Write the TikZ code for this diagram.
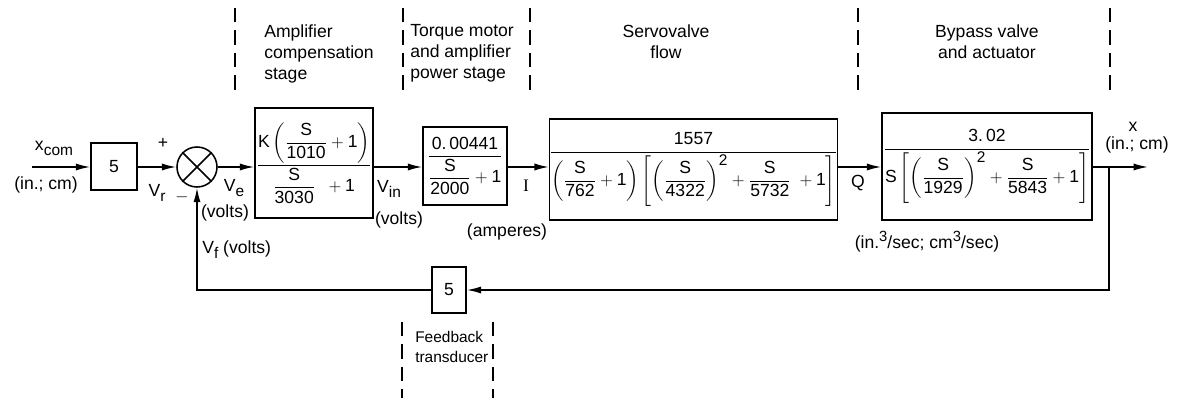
\documentclass[tikz,border=0pt]{standalone}
\usepackage{amsmath}
\usepackage{fontspec}
\setmainfont{Liberation Sans}
\newfontfamily\serifI{Liberation Serif}
\usetikzlibrary{arrows.meta}

\tikzset{
  blk/.style={draw,line width=1.1pt,inner sep=0pt},
  wire/.style={line width=1.1pt},
  sig/.style={wire,-{Latex[length=3.6mm,width=1.8mm]}},
  sep/.style={line width=1.2pt,dash pattern=on 10pt off 6pt},
  lbl/.style={inner sep=0pt},
}
% sans numbers in the transfer functions
\newcommand{\tn}[1]{\text{#1}}
\newcommand{\sfr}[1]{\dfrac{\tn{S}}{\tn{#1}}}
\newcommand{\sq}{^{\mbox{\fontsize{11}{12}\selectfont 2}}}
\newcommand{\lsub}[2]{#1\raisebox{-0.55ex}{\fontsize{11}{12}\selectfont #2}}
\newcommand{\lsup}[1]{\raisebox{0.75ex}{\fontsize{10.5}{12}\selectfont #1}}

\begin{document}
\begin{tikzpicture}[x=0.025cm,y=-0.025cm,font=\fontsize{12.5}{15}\selectfont]
\useasboundingbox (0,0) rectangle (1182,398);
% stage separators
\foreach \x in {235,403,530,858,1110} \draw[sep] (\x,8) -- (\x,92);
\foreach \x in {402,493} \draw[sep] (\x,322) -- (\x,398);
% stage names
\node[lbl,anchor=north west,align=left] (tamp) at (264,24) {Amplifier\\compensation\\stage};
\node[lbl,anchor=north west,align=left] (ttorq) at (410,24) {Torque motor\\and amplifier\\power stage};
\node[lbl,anchor=north,align=center] (tservo) at (666,24) {Servovalve\\flow};
\node[lbl,anchor=north,align=center] (tbyp) at (987,24) {Bypass valve\\and actuator};
\node[lbl,anchor=north west,align=left,font=\fontsize{11}{14.5}\selectfont] (tfb) at (415,331) {Feedback\\transducer};
% blocks
\node[blk,minimum width=1.15cm,minimum height=1.175cm] (gain) at (114,166.5) {5};
\node[draw,circle,wire,minimum size=1cm,inner sep=0pt] (sum) at (197,167) {};
\draw[wire] (sum.north west) -- (sum.south east) (sum.north east) -- (sum.south west);
\node[blk,minimum width=2.95cm,minimum height=2.75cm] (comp) at (314,163)
  {$\dfrac{\tn{K}\left(\sfr{1010}+\tn{1}\right)}{\sfr{3030}\;\;+\tn{1}}$};
\node[blk,minimum width=2.1cm,minimum height=1.95cm] (tmot) at (465,166)
  {$\dfrac{\tn{0.\,00441}}{\sfr{2000}+\tn{1}}$};
\node[blk,minimum width=7.075cm,minimum height=2.525cm] (servo) at (693.5,169.5)
  {$\dfrac{\tn{1557}}{\left(\sfr{762}+\tn{1}\right)\left[\left(\sfr{4322}\right)\sq+\sfr{5732}\;+\tn{1}\right]}$};
\node[blk,minimum width=5.25cm,minimum height=2.675cm] (act) at (987,166.5)
  {$\dfrac{\tn{3.\,02}}{\tn{S}\left[\left(\sfr{1929}\right)\sq+\sfr{5843}+\tn{1}\right]}$};
\node[blk,minimum width=0.85cm,minimum height=1.15cm] (fb) at (449,290) {5};
% signal labels
\node[lbl] (lxc) at (54,148) {\lsub{x}{com}};
\node[lbl] (lxcu) at (46,185) {(in.; cm)};
\node[lbl] (lplus) at (163,143) {+};
\node[lbl] (lvr) at (157,193) {\lsub{V}{r}};
\node[lbl] (lminus) at (182,197) {$-$};
\node[lbl] (lve) at (234,188) {\lsub{V}{e}};
\node[lbl] (lveu) at (225,213) {(volts)};
\node[lbl,anchor=west] (lvf) at (202,250) {\lsub{V}{f} (volts)};
\node[lbl] (lvin) at (389,189) {\lsub{V}{in}};
\node[lbl] (lvinu) at (399,220) {(volts)};
\node[lbl] (li) at (526,186) {\serifI I};
\node[lbl] (liu) at (507,232) {(amperes)};
\node[lbl] (lq) at (858,183) {Q};
\node[lbl] (lqu) at (927,242) {(in.\lsup{3}/sec; cm\lsup{3}/sec)};
\node[lbl] (lx) at (1133,127) {x};
\node[lbl] (lxu) at (1137,145) {(in.; cm)};
% connections
\coordinate (xin) at (32,167);
\coordinate (xout) at (1148,167);
\coordinate (tap) at (1109,167);
\coordinate (tapdn) at (1109,290);
\coordinate (fbl) at (197,290);
\draw[sig] (xin) -- (xin -| gain.west);
\draw[sig] (gain.east |- sum) -- (sum);
\draw[sig] (sum) -- (sum -| comp.west);
\draw[sig] (comp.east |- sum) -- (tmot.west |- sum);
\draw[sig] (tmot.east |- sum) -- (servo.west |- sum);
\draw[sig] (servo.east |- sum) -- (act.west |- sum);
\draw[sig] (act.east |- sum) -- (xout);
\draw[sig] (tap) -- (tapdn) -- (fb);
\draw[sig] (fb) -- (fbl) -- (sum);
\end{tikzpicture}
\end{document}
